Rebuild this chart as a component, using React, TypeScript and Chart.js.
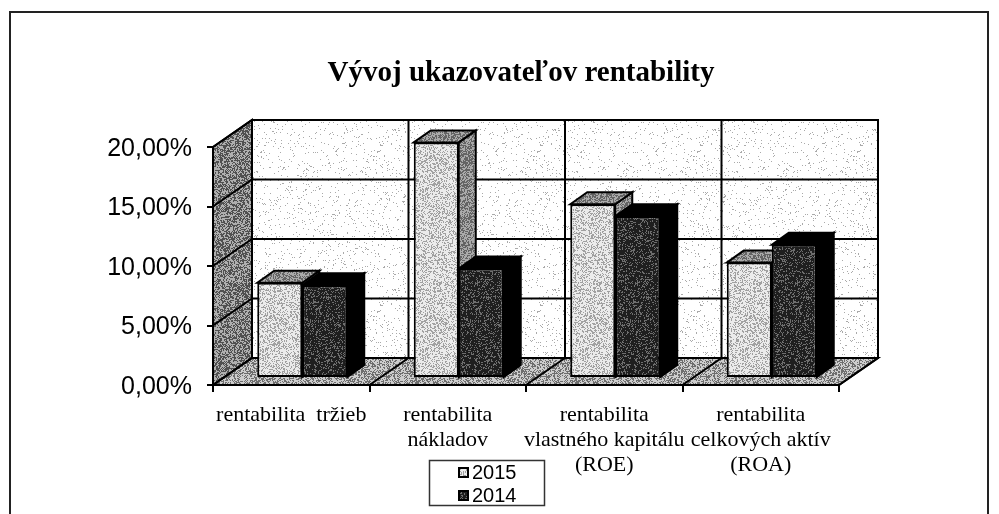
import React, { useEffect, useRef } from "react";
import { Chart, registerables } from "chart.js";

Chart.register(...registerables);

const titleText = "Vývoj ukazovateľov rentability";
const categories = [
  ["rentabilita  tržieb"],
  ["rentabilita", "nákladov"],
  ["rentabilita", "vlastného kapitálu", "(ROE)"],
  ["rentabilita", "celkových aktív", "(ROA)"],
];
const values2015 = [8.0, 19.8, 14.6, 9.7];
const values2014 = [7.8, 9.2, 13.6, 11.2];
const yTicks = [0, 5, 10, 15, 20];

const WALL_DX = 39;
const WALL_DY = -27;
const BAR_SHIFT_X = 11;
const BAR_SHIFT_Y = -7;
const BAR_DX = 17;
const BAR_DY = -12;

// Deterministic stipple texture imitating the scanned halftone.
function stipple(density: number, ink: number, paper: number, seed: number) {
  const size = 160;
  const c = document.createElement("canvas");
  c.width = size;
  c.height = size;
  const g = c.getContext("2d")!;
  const img = g.createImageData(size, size);
  let s = seed >>> 0;
  for (let i = 0; i < size * size; i++) {
    s = (Math.imul(s, 1664525) + 1013904223) >>> 0;
    const v = ((s >>> 16) & 0xffff) / 65535 < density ? ink : paper;
    img.data[i * 4] = v;
    img.data[i * 4 + 1] = v;
    img.data[i * 4 + 2] = v;
    img.data[i * 4 + 3] = 255;
  }
  g.putImageData(img, 0, 0);
  return g.createPattern(c, "repeat")!;
}

function poly(ctx: CanvasRenderingContext2D, pts: number[][], fill: any, stroke = true, lw = 2) {
  ctx.beginPath();
  pts.forEach((p, i) => (i ? ctx.lineTo(p[0], p[1]) : ctx.moveTo(p[0], p[1])));
  ctx.closePath();
  if (fill) {
    ctx.fillStyle = fill;
    ctx.fill();
  }
  if (stroke) {
    ctx.strokeStyle = "#000";
    ctx.lineWidth = lw;
    ctx.stroke();
  }
}

export default function App() {
  const ref = useRef<HTMLCanvasElement>(null);
  useEffect(() => {
    const wallTex = stipple(0.05, 170, 255, 11);
    const sideTex = stipple(0.5, 80, 175, 22);
    const floorTex = stipple(0.45, 110, 205, 33);
    const lightTex = stipple(0.35, 160, 235, 44);
    const darkTex = stipple(0.75, 30, 110, 55);
    const greyFace = stipple(0.5, 100, 170, 66);

    const scene = {
      id: "scene",
      afterLayout(chart: any) {
        // The title is centred on the frame rather than on the plot.
        if (chart.titleBlock) {
          chart.titleBlock.left = 0;
          chart.titleBlock.right = 1042;
        }
      },
      beforeDraw(chart: any) {
        const ctx = chart.ctx;
        const { x, y } = chart.scales;
        const { left, right, top, bottom } = chart.chartArea;
        ctx.save();
        ctx.fillStyle = "#fff";
        ctx.fillRect(0, 0, chart.width, chart.height);
        ctx.strokeStyle = "#222";
        ctx.lineWidth = 2;
        ctx.beginPath();
        ctx.moveTo(10, chart.height + 2);
        ctx.lineTo(10, 12);
        ctx.lineTo(988, 12);
        ctx.lineTo(988, chart.height + 2);
        ctx.stroke();

        // back wall, side wall and floor
        poly(ctx, [[left + WALL_DX, top + WALL_DY], [right + WALL_DX, top + WALL_DY], [right + WALL_DX, bottom + WALL_DY], [left + WALL_DX, bottom + WALL_DY]], wallTex);
        poly(ctx, [[left, top], [left + WALL_DX, top + WALL_DY], [left + WALL_DX, bottom + WALL_DY], [left, bottom]], sideTex);
        poly(ctx, [[left, bottom], [left + WALL_DX, bottom + WALL_DY], [right + WALL_DX, bottom + WALL_DY], [right, bottom]], floorTex);

        ctx.strokeStyle = "#000";
        ctx.lineWidth = 2;
        ctx.beginPath();
        for (const v of yTicks) {
          const py = y.getPixelForValue(v);
          ctx.moveTo(left, py);
          ctx.lineTo(left + WALL_DX, py + WALL_DY);
          ctx.lineTo(right + WALL_DX, py + WALL_DY);
        }
        const step = (right - left) / categories.length;
        for (let i = 1; i <= categories.length; i++) {
          const px = x.getPixelForValue(i - 1) + step / 2;
          ctx.moveTo(px, bottom);
          ctx.lineTo(px + WALL_DX, bottom + WALL_DY);
          ctx.lineTo(px + WALL_DX, top + WALL_DY);
        }
        ctx.stroke();
        ctx.restore();
      },
      beforeDatasetsDraw(chart: any) {
        const ctx = chart.ctx;
        ctx.save();
        ctx.translate(BAR_SHIFT_X, BAR_SHIFT_Y);
        // Side and top faces: every dataset first, left series underneath.
        chart.data.datasets.forEach((_: any, i: number) => {
          const isLight = i === 0;
          for (const bar of chart.getDatasetMeta(i).data as any[]) {
            const x0 = bar.x - bar.width / 2;
            const x1 = bar.x + bar.width / 2;
            const yt = bar.y;
            const yb = bar.base;
            poly(ctx, [[x1, yt], [x1 + BAR_DX, yt + BAR_DY], [x1 + BAR_DX, yb + BAR_DY], [x1, yb]], isLight ? greyFace : "#000");
            poly(ctx, [[x0, yt], [x0 + BAR_DX, yt + BAR_DY], [x1 + BAR_DX, yt + BAR_DY], [x1, yt]], isLight ? greyFace : "#000");
          }
        });
      },
      afterDatasetsDraw(chart: any) {
        chart.ctx.restore();
      },
      afterDraw(chart: any) {
        const ctx = chart.ctx;
        ctx.save();
        ctx.strokeStyle = "#333";
        ctx.lineWidth = 1.5;
        ctx.strokeRect(429.5, 460.5, 115, 45);
        ctx.textBaseline = "middle";
        ctx.textAlign = "left";
        ctx.font = "20px 'Liberation Sans'";
        chart.data.datasets.forEach((ds: any, i: number) => {
          const yc = 472 + i * 23;
          ctx.fillStyle = "#000";
          ctx.fillRect(458, yc - 5, 11, 11);
          ctx.fillStyle = ds.backgroundColor;
          ctx.fillRect(460, yc - 3, 7, 7);
          ctx.fillStyle = "#000";
          ctx.fillText(ds.label, 472, yc + 1);
        });
        ctx.restore();
      },
    };

    const chart = new Chart(ref.current!, {
      type: "bar",
      data: {
        labels: categories,
        datasets: [
          { label: "2015", data: values2015, backgroundColor: lightTex as any, borderColor: "#000", borderWidth: 2, borderSkipped: false, clip: false as any },
          { label: "2014", data: values2014, backgroundColor: darkTex as any, borderColor: "#000", borderWidth: 2, borderSkipped: false, clip: false as any },
        ],
      },
      options: {
        responsive: false,
        animation: false,
        layout: { padding: { left: 0, right: 160, top: 0, bottom: 0 } },
        datasets: { bar: { categoryPercentage: 0.575, barPercentage: 1 } },
        plugins: {
          legend: { display: false },
          tooltip: { enabled: false },
          title: {
            display: true,
            text: titleText,
            color: "#000",
            font: { family: "'Liberation Serif'", size: 29, weight: "bold" },
            padding: { top: 56.6, bottom: 55.6 },
          },
        },
        scales: {
          x: {
            afterFit: (s: any) => { s.height = 129; },
            grid: { drawOnChartArea: false, drawTicks: true, tickLength: 7, color: "#000", lineWidth: 2 },
            border: { color: "#000", width: 2 },
            ticks: {
              autoSkip: false,
              maxRotation: 0,
              minRotation: 0,
              color: "#000",
              padding: 11,
              font: { family: "'Liberation Serif'", size: 22, lineHeight: 1.14 },
            },
          },
          y: {
            min: 0,
            max: 20,
            afterFit: (s: any) => { s.width = 213; },
            grid: { drawOnChartArea: false, drawTicks: true, tickLength: 6, color: "#000", lineWidth: 2 },
            border: { color: "#000", width: 2 },
            ticks: {
              stepSize: 5,
              color: "#000",
              padding: 15,
              labelOffset: 2,
              font: { family: "'Liberation Sans'", size: 25 },
              callback: (v: any) => Number(v).toFixed(2).replace(".", ",") + "%",
            },
          },
        },
      } as any,
      plugins: [scene as any],
    });
    return () => chart.destroy();
  }, []);
  return (
    <canvas
      ref={ref}
      width={999}
      height={514}
      style={{ position: "fixed", left: 0, top: 0, display: "block" }}
    />
  );
}
